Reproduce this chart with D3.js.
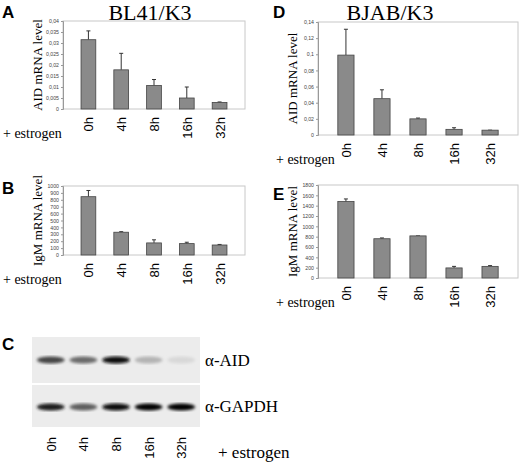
<!DOCTYPE html>
<html><head><meta charset="utf-8">
<script src="https://cdn.jsdelivr.net/npm/d3@7"></script>
<style>body{margin:0;background:#fff}</style>
</head><body>
<svg id="fig" width="520" height="468"></svg>
<script>
const times = ["0h", "4h", "8h", "16h", "32h"];
const aidBL = [0.0315, 0.0178, 0.0107, 0.005, 0.003];
const aidBLErr = [0.004, 0.0075, 0.0027, 0.005, 0.0002];
const igmBL = [845, 330, 175, 165, 145];
const igmBLErr = [90, 8, 45, 20, 8];
const aidBJ = [0.099, 0.045, 0.02, 0.007, 0.006];
const aidBJErr = [0.032, 0.011, 0.001, 0.002, 0];
const igmBJ = [1480, 760, 815, 195, 225];
const igmBJErr = [50, 15, 0, 30, 15];
const blotAID = [0.75, 0.6, 0.95, 0.3, 0.12];
const blotGAPDH = [0.9, 0.65, 0.95, 1, 1];

const svg = d3.select("#fig");
const defs = svg.append("defs");
defs.append("filter").attr("id", "blur").append("feGaussianBlur").attr("stdDeviation", 1.8);

function chart(o) {
  const x = d3.scaleBand().domain(times).range([o.x0, o.x1]).padding(0.55);
  const y = d3.scaleLinear().domain([0, o.max]).range([o.y1, o.y0]);
  const g = svg.append("g");
  g.append("rect").attr("x", o.x0).attr("y", o.y0).attr("width", o.x1 - o.x0)
    .attr("height", o.y1 - o.y0).attr("fill", "none").attr("stroke", "#c8c8c8");
  const ax = g.append("g").attr("transform", `translate(${o.x0},0)`)
    .call(d3.axisLeft(y).tickValues(d3.range(0, o.max + o.step / 2, o.step))
      .tickFormat(d => d3.format(o.fmt)(d).replace(".", ",")).tickSize(2).tickPadding(2));
  ax.select(".domain").attr("stroke", "#999");
  ax.selectAll("line").attr("stroke", "#999");
  ax.selectAll("text").attr("font-family", "Arial").attr("font-size", 5.2).attr("fill", "#444");
  g.selectAll(".eb").data(o.vals).join("line")
    .attr("x1", (d, i) => x(times[i]) + x.bandwidth() / 2).attr("x2", (d, i) => x(times[i]) + x.bandwidth() / 2)
    .attr("y1", d => y(d)).attr("y2", (d, i) => y(d + o.err[i])).attr("stroke", "#333");
  g.selectAll(".cap").data(o.vals).join("line")
    .attr("x1", (d, i) => x(times[i]) + x.bandwidth() / 2 - 2).attr("x2", (d, i) => x(times[i]) + x.bandwidth() / 2 + 2)
    .attr("y1", (d, i) => y(d + o.err[i])).attr("y2", (d, i) => y(d + o.err[i])).attr("stroke", "#333");
  g.selectAll(".bar").data(o.vals).join("rect")
    .attr("x", (d, i) => x(times[i])).attr("width", x.bandwidth())
    .attr("y", d => y(d)).attr("height", d => o.y1 - y(d))
    .attr("fill", "#8a8a8a").attr("stroke", "#444").attr("stroke-width", 0.8);
  g.append("text").attr("transform", `translate(${o.x0 - 21},${(o.y0 + o.y1) / 2}) rotate(-90)`)
    .attr("text-anchor", "middle").attr("font-family", "Liberation Serif").attr("font-size", 13)
    .text(o.ylab);
  g.selectAll(".xl").data(times).join("text")
    .attr("transform", d => `translate(${x(d) + x.bandwidth() / 2 + 5},${o.y1 + 8}) rotate(-90)`)
    .attr("text-anchor", "end").attr("font-family", "Arial").attr("font-size", 13).text(d => d);
  g.append("text").attr("x", o.ex).attr("y", o.y1 + 29).attr("font-family", "Liberation Serif")
    .attr("font-size", 14).text("+ estrogen");
}

chart({x0: 63, x1: 245, y0: 21, y1: 109, max: 0.04, step: 0.005, fmt: "", vals: aidBL, err: aidBLErr, ylab: "AID mRNA level", ex: 3});
chart({x0: 63, x1: 245, y0: 186, y1: 255, max: 1000, step: 100, fmt: "d", vals: igmBL, err: igmBLErr, ylab: "IgM mRNA level", ex: 3});
chart({x0: 318, x1: 518, y0: 22, y1: 135, max: 0.14, step: 0.02, fmt: "", vals: aidBJ, err: aidBJErr, ylab: "AID mRNA level", ex: 276});
chart({x0: 318, x1: 518, y0: 185, y1: 278, max: 1800, step: 200, fmt: "d", vals: igmBJ, err: igmBJErr, ylab: "IgM mRNA level", ex: 276});

svg.append("text").attr("x", 150).attr("y", 20).attr("text-anchor", "middle")
  .attr("font-family", "Liberation Serif").attr("font-size", 22).text("BL41/K3");
svg.append("text").attr("x", 390).attr("y", 20).attr("text-anchor", "middle")
  .attr("font-family", "Liberation Serif").attr("font-size", 22).text("BJAB/K3");
[["A", 2, 18], ["B", 2, 194], ["C", 2, 350], ["D", 273, 18], ["E", 273, 200]].forEach(([t, x, y]) =>
  svg.append("text").attr("x", x).attr("y", y).attr("font-family", "Arial").attr("font-weight", "bold")
    .attr("font-size", 17).text(t));

// western blot panel C
const lx = d3.scaleBand().domain(times).range([32, 200]).padding(0.15);
const strips = [{y: 337, h: 46, vals: blotAID, lab: "α-AID"}, {y: 385, h: 42, vals: blotGAPDH, lab: "α-GAPDH"}];
strips.forEach(s => {
  svg.append("rect").attr("x", 32).attr("y", s.y).attr("width", 168).attr("height", s.h).attr("fill", "#ececec");
  svg.append("g").attr("filter", "url(#blur)").selectAll("ellipse").data(s.vals).join("ellipse")
    .attr("cx", (d, i) => lx(times[i]) + lx.bandwidth() / 2).attr("cy", s.y + s.h / 2 + (s === strips[0] ? 0 : 1))
    .attr("rx", lx.bandwidth() / 2).attr("ry", 3.5)
    .attr("fill", d => d3.interpolateGreys(0.15 + d * 0.85));
  svg.append("text").attr("x", 205).attr("y", s.y + s.h / 2 + 6).attr("font-family", "Liberation Serif")
    .attr("font-size", 17).text(s.lab);
});
svg.selectAll(".bl").data(times).join("text")
  .attr("transform", d => `translate(${lx(d) + lx.bandwidth() / 2 + 5},${437}) rotate(-90)`)
  .attr("text-anchor", "end").attr("font-family", "Arial").attr("font-size", 13).text(d => d);
svg.append("text").attr("x", 218).attr("y", 458).attr("font-family", "Liberation Serif")
  .attr("font-size", 17).text("+ estrogen");
</script>
</body></html>
